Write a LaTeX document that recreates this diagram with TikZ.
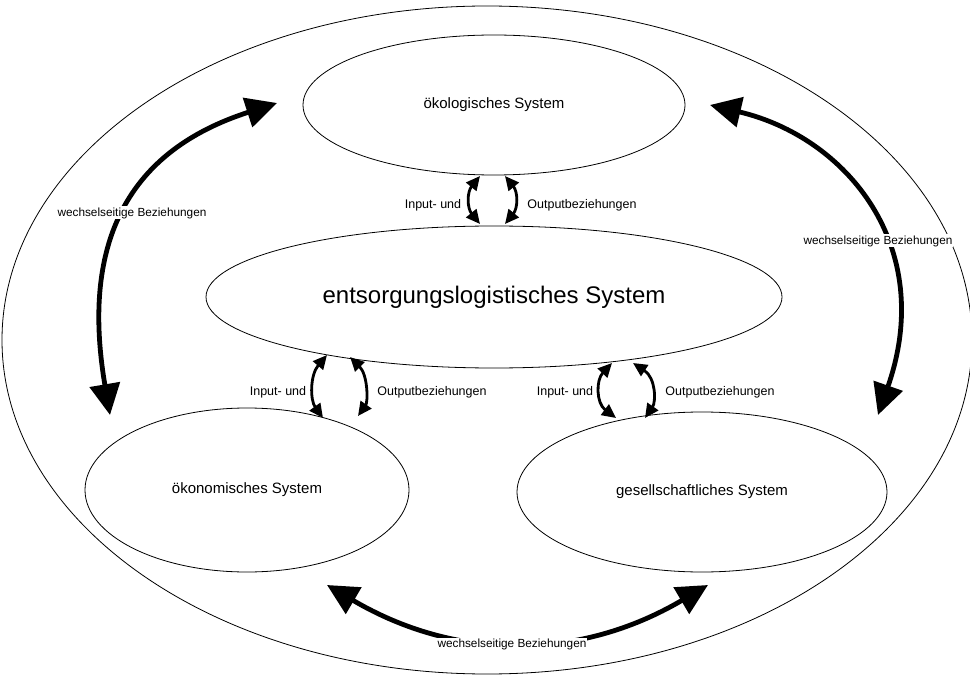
\documentclass[tikz,border=0pt]{standalone}
\usepackage{fontspec}
\setmainfont{Liberation Sans}
\usetikzlibrary{arrows.meta,shapes.geometric}
\begin{document}
\begin{tikzpicture}[x=1pt,y=-1pt,
  sysbox/.style={draw, ellipse, line width=0.8pt, inner sep=0pt,
    font=\fontsize{15}{18}\selectfont},
  relarrow/.style={line width=4.8pt,
    {Triangle[length=31pt,width=30pt]}-{Triangle[length=31pt,width=30pt]}},
  ioarrow/.style={line width=2.8pt,
    {Triangle[length=14pt,width=13pt]}-{Triangle[length=14pt,width=13pt]}},
  rellabel/.style={fill=white, inner sep=1pt, font=\fontsize{11.8}{13}\selectfont},
  iolabel/.style={inner sep=1pt, font=\fontsize{12.5}{14}\selectfont}]
\useasboundingbox (0,0) rectangle (970,679);

% systems
\node[draw, ellipse, line width=0.8pt, minimum width=970pt, minimum height=668pt] (world) at (487,340) {};
\node[sysbox, minimum width=382pt, minimum height=140pt] (eco) at (494,105) {ökologisches System};
\node[sysbox, minimum width=576pt, minimum height=142pt, font=\fontsize{24}{28}\selectfont] (ent) at (494,297) {entsorgungslogistisches System};
\node[sysbox, minimum width=324pt, minimum height=164pt] (oek) at (247,490) {ökonomisches System};
\node[sysbox, minimum width=370pt, minimum height=160pt] (ges) at (702,492) {gesellschaftliches System};

% end points of the input/output arrows
\coordinate (eA) at (480,176); \coordinate (cA) at (480,224);
\coordinate (eB) at (505,176); \coordinate (cB) at (505,224);
\coordinate (cC) at (327,355); \coordinate (oC) at (323,418);
\coordinate (cD) at (350,357); \coordinate (oD) at (358,416);
\coordinate (cE) at (612,363); \coordinate (gE) at (616,418);
\coordinate (cF) at (633,363); \coordinate (gF) at (645,418);

% end points of the mutual relation arrows
\coordinate (lo) at (110,415); \coordinate (lu) at (277,103);
\coordinate (ro) at (878,415); \coordinate (ru) at (710,105);
\coordinate (bl) at (327,585); \coordinate (br) at (708,585);

% input/output arrows
\draw[ioarrow] (eA) .. controls (467,192) and (467,208) .. (cA);
\draw[ioarrow] (eB) .. controls (518,192) and (518,208) .. (cB);
\draw[ioarrow] (cC) .. controls (310,375) and (310,400) .. (oC);
\draw[ioarrow] (cD) .. controls (368,375) and (368,402) .. (oD);
\draw[ioarrow] (cE) .. controls (596,380) and (596,403) .. (gE);
\draw[ioarrow] (cF) .. controls (656,378) and (656,402) .. (gF);

\node[iolabel] (t1) at (433,205) {Input- und};
\node[iolabel] (t2) at (582,205) {Outputbeziehungen};
\node[iolabel] (t3) at (278,392) {Input- und};
\node[iolabel] (t4) at (432,392) {Outputbeziehungen};
\node[iolabel] (t5) at (565,392) {Input- und};
\node[iolabel] (t6) at (720,392) {Outputbeziehungen};

% mutual relation arrows
\draw[relarrow] (lo) .. controls (76,215) and (153,143) .. (lu);
\draw[relarrow] (ro) .. controls (937,246) and (846,137) .. (ru);
\draw[relarrow] (bl) .. controls (456,661) and (579,661) .. (br);

\node[rellabel] (w1) at (132,213) {wechselseitige Beziehungen};
\node[rellabel] (w2) at (878,241) {wechselseitige Beziehungen};
\node[rellabel] (w3) at (512,644) {wechselseitige Beziehungen};
\end{tikzpicture}
\end{document}
